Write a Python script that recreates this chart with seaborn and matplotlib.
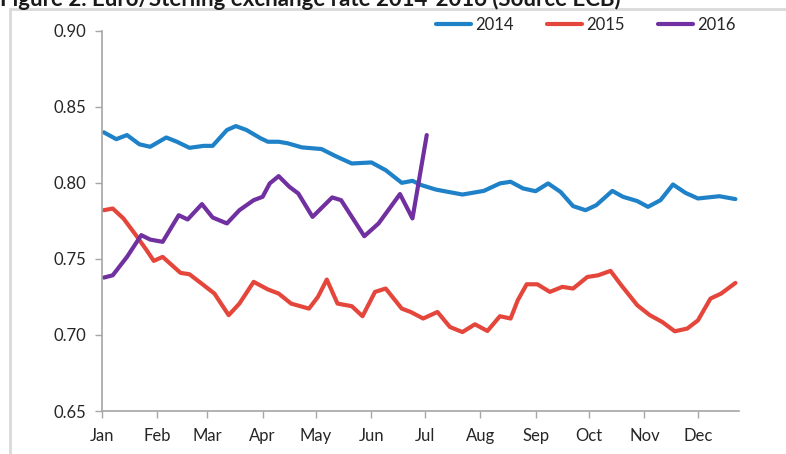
import matplotlib
matplotlib.use("Agg")
import matplotlib.pyplot as plt
import matplotlib.patches as mpatches
import pandas as pd
import seaborn as sns

# day of year (0 = 1 Jan) and EUR/GBP rate
days_2014 = [1, 8, 14, 21, 27, 36, 42, 49, 57, 62, 70, 75, 81, 89, 93, 99, 104, 112,
             123, 131, 140, 151, 159, 168, 174, 179, 187, 191, 202, 214, 223, 229, 236,
             243, 250, 257, 264, 271, 277, 286, 292, 300, 306, 313, 320, 327, 334, 346, 355]
rate_2014 = [0.8332, 0.8287, 0.8314, 0.8253, 0.8237, 0.8298, 0.8270, 0.8230, 0.8243,
             0.8243, 0.8347, 0.8373, 0.8347, 0.8292, 0.8270, 0.8270, 0.8260, 0.8233,
             0.8222, 0.8175, 0.8127, 0.8134, 0.8083, 0.8000, 0.8013, 0.7985, 0.7956,
             0.7947, 0.7923, 0.7947, 0.7996, 0.8007, 0.7963, 0.7945, 0.7996, 0.7940,
             0.7847, 0.7820, 0.7853, 0.7947, 0.7908, 0.7880, 0.7842, 0.7886, 0.7989,
             0.7934, 0.7897, 0.7912, 0.7893]

days_2015 = [1, 6, 12, 19, 25, 29, 34, 44, 49, 57, 63, 71, 77, 85, 93, 99, 106, 116,
             121, 126, 132, 140, 146, 153, 159, 168, 173, 180, 188, 195, 202, 209, 216,
             223, 229, 233, 238, 244, 251, 258, 264, 272, 278, 285, 291, 300, 307, 314,
             321, 328, 334, 341, 347, 355]
rate_2015 = [0.7820, 0.7831, 0.7766, 0.7656, 0.7557, 0.7487, 0.7513, 0.7408, 0.7399,
             0.7327, 0.7272, 0.7130, 0.7206, 0.7349, 0.7299, 0.7272, 0.7206, 0.7173,
             0.7250, 0.7364, 0.7206, 0.7189, 0.7123, 0.7283, 0.7305, 0.7173, 0.7151,
             0.7108, 0.7151, 0.7052, 0.7019, 0.7070, 0.7026, 0.7123, 0.7108, 0.7228,
             0.7333, 0.7333, 0.7283, 0.7316, 0.7305, 0.7381, 0.7392, 0.7421, 0.7327,
             0.7195, 0.7130, 0.7085, 0.7024, 0.7042, 0.7096, 0.7239, 0.7272, 0.7342]

days_2016 = [1, 6, 14, 22, 27, 34, 43, 48, 56, 62, 70, 77, 85, 90, 94, 99, 105, 110,
             118, 129, 134, 147, 155, 167, 174, 182]
rate_2016 = [0.7377, 0.7392, 0.7513, 0.7656, 0.7627, 0.7612, 0.7787, 0.7759, 0.7860,
             0.7772, 0.7733, 0.7820, 0.7886, 0.7908, 0.7996, 0.8044, 0.7974, 0.7930,
             0.7776, 0.7904, 0.7886, 0.7649, 0.7733, 0.7926, 0.7766, 0.8314]

month_starts = [0, 31, 59, 90, 120, 151, 181, 212, 243, 273, 304, 334]
month_labels = ["Jan", "Feb", "Mar", "Apr", "May", "Jun",
                "Jul", "Aug", "Sep", "Oct", "Nov", "Dec"]
y_ticks = [0.65, 0.70, 0.75, 0.80, 0.85, 0.90]

colors = {"2014": "#1f82c8", "2015": "#e5463c", "2016": "#7030a0"}

df = pd.concat([
    pd.DataFrame({"day": days_2014, "rate": rate_2014, "year": "2014"}),
    pd.DataFrame({"day": days_2015, "rate": rate_2015, "year": "2015"}),
    pd.DataFrame({"day": days_2016, "rate": rate_2016, "year": "2016"}),
])

sns.set_style("white")
plt.rcParams["font.family"] = ["Lato", "DejaVu Sans"]

fig = plt.figure(figsize=(7.86, 4.54), dpi=100)
ax = fig.add_axes([102 / 786, 43 / 454, 637 / 786, 380.3 / 454])

sns.lineplot(data=df, x="day", y="rate", hue="year", palette=colors,
             linewidth=3, ax=ax, legend=True)
for line in ax.lines:
    line.set_solid_joinstyle("round")
    line.set_solid_capstyle("round")

ax.set_xlim(0, 357)
ax.set_ylim(0.65, 0.90)
ax.set_xticks(month_starts)
ax.set_xticklabels(month_labels)
ax.set_yticks(y_ticks)
ax.set_yticklabels([f"{v:.2f}" for v in y_ticks])
ax.set_xlabel("")
ax.set_ylabel("")

for side in ["top", "right"]:
    ax.spines[side].set_visible(False)
for side in ["left", "bottom"]:
    ax.spines[side].set_color("#a6a6a6")
    ax.spines[side].set_linewidth(1.2)
ax.tick_params(axis="both", direction="out", length=5, width=1, color="#a6a6a6",
               labelsize=12, labelcolor="#262626", left=True, bottom=True)
ax.tick_params(axis="x", pad=7)
ax.tick_params(axis="y", pad=6)

handles, labels = ax.get_legend_handles_labels()
ax.legend(handles, labels, ncol=3, frameon=False, fontsize=12,
          loc="center", bbox_to_anchor=(586 / 786, 1 - 25 / 454),
          bbox_transform=fig.transFigure, handlelength=2.1, columnspacing=2.0,
          handletextpad=0.25)

# chart area border (cropped at right and bottom)
fig.patches.append(mpatches.Rectangle((10 / 786, -0.1), 1.2, 1 - 9 / 454 + 0.1,
                                      transform=fig.transFigure, fill=False,
                                      edgecolor="#d9d9d9", linewidth=2))

fig.text(0.0, 1 - 6 / 454, "Figure 2. Euro/Sterling exchange rate 2014-2016 (Source ECB)",
         fontsize=16, fontweight="bold", va="baseline", ha="left", color="#1a1a1a")

fig.savefig("out.png", dpi=100)
